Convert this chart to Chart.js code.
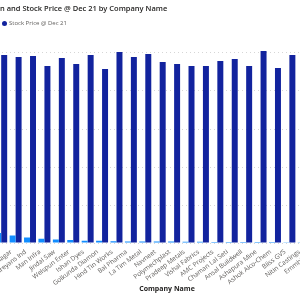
<!DOCTYPE html>
<html>
<head>
<meta charset="utf-8">
<script src="https://cdn.jsdelivr.net/npm/chart.js@4/dist/chart.umd.min.js"></script>
<style>
  html, body { margin: 0; padding: 0; background: #fff; }
  body { width: 300px; height: 300px; overflow: hidden; position: relative; font-family: "Open Sans", sans-serif; }
  #wrap { position: absolute; left: -6px; top: 0; width: 317px; height: 300px; }
  #title { position: absolute; top: 3px; white-space: nowrap; font-size: 7.5px; font-weight: 600; color: #252423; }
  #legend { position: absolute; top: 19px; white-space: nowrap; font-size: 6px; color: #605E5C; display: flex; align-items: center; }
  .item { display: flex; align-items: center; margin-right: 6px; }
  .dot { width: 5px; height: 5px; border-radius: 50%; margin-right: 2px; display: inline-block; }
  #xtitle { position: absolute; top: 284px; left: 167px; transform: translateX(-50%); white-space: nowrap; font-size: 7px; font-weight: 700; color: #252423; }
</style>
</head>
<body>
<div id="wrap"><canvas id="c" width="317" height="300"></canvas></div>
<div id="title"><span id="tpre"></span><span id="tpost"></span></div>
<div id="legend"></div>
<div id="xtitle"></div>
<script>
const titleHidden = "Market Capitalizatio";
const titleShown = "n and Stock Price @ Dec 21 by Company Name";
const xAxisTitle = "Company Name";
const seriesNames = ["Market Capitalization", "Stock Price @ Dec 21"];
const seriesColors = ["#118DFF", "#12239E"];

const categories = [
  "Bhagyanagar", "Shreyans Ind", "Man Infra", "Jindal Saw", "Welspun Enter",
  "Ishan Dyes", "Golkunda Diamon", "Hind Tin Works", "Bal Pharma", "La Tim Metal",
  "Navneet", "Polymechplast", "Pradeep Metals", "Vishal Fabrics", "AMC Projects",
  "Chaman Lal Seti", "Ansal Buildwell", "Ashapura Mine", "Ashok Alco-Chem", "Bliss GVS",
  "Nitin Castings", "Emmbi Inds"
];
const marketCap = [26.3, 19.7, 14.5, 11.3, 9.5, 7.9, 6.1, 5.8, 4.7, 4.2, 3.9, 3.9, 3.7, 3.4, 3.4, 2.9, 2.6, 2.6, 2.4, 2.4, 2.1, 2.1];
const stockPrice = [494.7, 489.5, 492.1, 465.8, 486.8, 471.1, 494.7, 457.9, 502.6, 489.5, 497.4, 476.3, 471.1, 465.8, 465.8, 478.9, 484.2, 465.8, 505.3, 460.5, 494.7, 480.0];
const yTicks = [0, 100, 200, 300, 400, 500];
const yMax = 520;

// texts
document.getElementById('tpre').textContent = titleHidden;
document.getElementById('tpost').textContent = titleShown;
const tpreW = document.getElementById('tpre').getBoundingClientRect().width;
document.getElementById('title').style.left = (-tpreW) + 'px';
document.getElementById('xtitle').textContent = xAxisTitle;
const leg = document.getElementById('legend');
seriesNames.forEach((n, i) => {
  const it = document.createElement('span'); it.className = 'item';
  const d = document.createElement('span'); d.className = 'dot'; d.style.background = seriesColors[i];
  const tx = document.createElement('span'); tx.textContent = n;
  it.appendChild(d); it.appendChild(tx); leg.appendChild(it);
});
const firstItem = leg.children[0];
const shift = firstItem.getBoundingClientRect().width + 6;
leg.style.left = (2 - shift) + 'px';

new Chart(document.getElementById('c'), {
  type: 'bar',
  data: {
    labels: categories,
    datasets: [
      { label: seriesNames[0], data: marketCap, backgroundColor: seriesColors[0], barPercentage: 1, categoryPercentage: 0.83, borderWidth: 0 },
      { label: seriesNames[1], data: stockPrice, backgroundColor: seriesColors[1], barPercentage: 1, categoryPercentage: 0.83, borderWidth: 0 }
    ]
  },
  options: {
    responsive: false,
    animation: false,
    devicePixelRatio: 1,
    layout: { padding: { top: 45.4, left: 0, right: 0, bottom: 0 } },
    plugins: { legend: { display: false }, title: { display: false }, tooltip: { enabled: false } },
    scales: {
      x: {
        grid: { display: false },
        border: { display: false },
        ticks: {
          autoSkip: false, minRotation: 37, maxRotation: 37, padding: -3, labelOffset: 10,
          color: '#605E5C', font: { family: 'Open Sans', size: 6.5 }
        },
        afterFit: s => { s.paddingLeft = 0; s.paddingRight = 0; s.height = 57; }
      },
      y: {
        min: 0, max: yMax,
        afterBuildTicks: s => { s.ticks = yTicks.map(v => ({ value: v })); },
        ticks: { display: false },
        grid: { color: '#d6d6d6', lineWidth: 1, drawTicks: false },
        border: { display: false, dash: [1, 3] },
        afterFit: s => { s.width = 0; }
      }
    }
  }
});
</script>
</body>
</html>
